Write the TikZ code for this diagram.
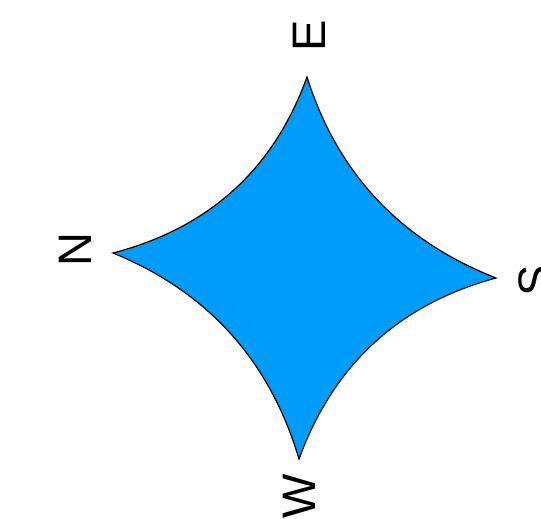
\documentclass[tikz,border=0pt]{standalone}
\usepackage{fontspec}
\setmainfont{Liberation Sans}
\usetikzlibrary{calc}
\definecolor{starblue}{RGB}{0,156,250}
\tikzset{
  lbl/.style={rotate=90, inner sep=0pt, font=\fontsize{23.5}{28}\selectfont},
  star/.style={fill=starblue, draw=black, line width=0.6pt, line join=miter}
}
\begin{document}
\begin{tikzpicture}[x=0.5pt, y=-0.5pt]
\useasboundingbox (0,0) rectangle (541,519);
\coordinate (tT) at (307,77);
\coordinate (tL) at (113,253);
\coordinate (tR) at (496,278);
\coordinate (tB) at (299,459);
\coordinate (pLT) at (257,215.5);
\coordinate (pTR) at (352.75,221.75);
\coordinate (pRB) at (350.75,317.25);
\coordinate (pBL) at (255,311);
\draw[star] (tL)
  .. controls ($(tL)!2/3!(pLT)$) and ($(tT)!2/3!(pLT)$) .. (tT)
  .. controls ($(tT)!2/3!(pTR)$) and ($(tR)!2/3!(pTR)$) .. (tR)
  .. controls ($(tR)!2/3!(pRB)$) and ($(tB)!2/3!(pRB)$) .. (tB)
  .. controls ($(tB)!2/3!(pBL)$) and ($(tL)!2/3!(pBL)$) .. cycle;
\node[lbl] (lE) at (309,36) {E};
\node[lbl] (lN) at (75,250) {N};
\node[lbl] (lS) at (535,281) {S};
\node[lbl] (lW) at (299,496) {W};
\end{tikzpicture}
\end{document}
